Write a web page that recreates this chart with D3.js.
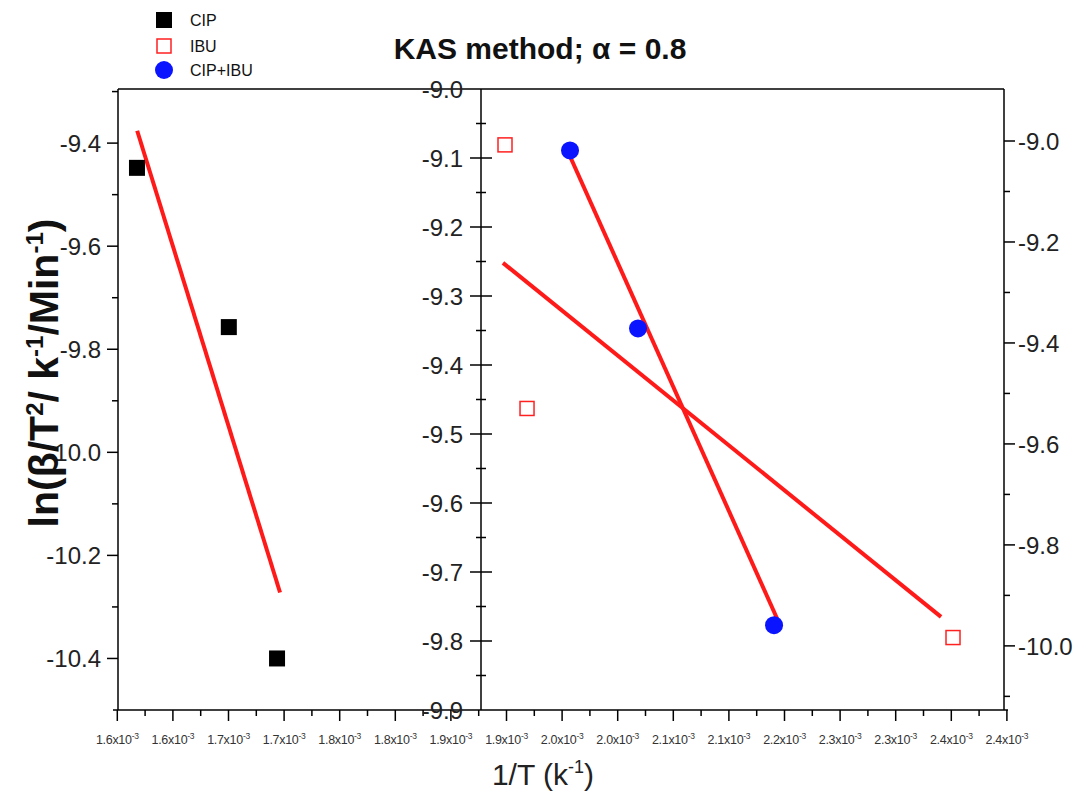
<!DOCTYPE html>
<html>
<head>
<meta charset="utf-8">
<script src="https://cdn.jsdelivr.net/npm/d3@7"></script>
<style>
  html, body { margin: 0; padding: 0; background: #fff; }
  svg { display: block; font-family: Arial, "Liberation Sans", sans-serif; }
</style>
</head>
<body>
<svg id="chart" width="1088" height="805"></svg>
<script>
// ---- data (x in units of 1e-3 K^-1) ----
const seriesNames = ["CIP", "IBU", "CIP+IBU"];
const cipX = [1.5944, 1.6803, 1.7254];
const cipY = [-9.448, -9.757, -10.400];
const ibuX = [1.9386, 1.9592, 2.3576];
const ibuY = [-9.081, -9.463, -9.795];
const mixX = [1.9994, 2.0630, 2.1902];
const mixY = [-9.089, -9.347, -9.777];
// fitted lines (end points)
const cipFitX = [1.5946, 1.7282];
const cipFitY = [-9.376, -10.272];
const ibuFitX = [1.9367, 2.3464];
const ibuFitY = [-9.252, -9.765];
const mixFitX = [1.9975, 2.1967];
const mixFitY = [-9.091, -9.780];
// axes
const xTickValues = [1.576, 1.628, 1.680, 1.732, 1.784, 1.836, 1.888, 1.940, 1.992, 2.044, 2.096, 2.148, 2.200, 2.252, 2.304, 2.356, 2.408];
const xTickLabels = ["1.6", "1.6", "1.7", "1.7", "1.8", "1.8", "1.9", "1.9", "2.0", "2.0", "2.1", "2.1", "2.2", "2.3", "2.3", "2.4", "2.4"];
const leftTicks = [-9.4, -9.6, -9.8, -10.0, -10.2, -10.4];
const midTicks = [-9.0, -9.1, -9.2, -9.3, -9.4, -9.5, -9.6, -9.7, -9.8, -9.9];
const rightTicks = [-9.0, -9.2, -9.4, -9.6, -9.8, -10.0];
const titleText = "KAS method; ";
const xTitle = "1/T (k";

const svg = d3.select("#chart");
const pTop = 89, pBottom = 710, pLeft = 118, pRight = 1004, midX = 481;

const x = d3.scaleLinear().domain([1.576, 2.408]).range([117.3, 1006.9]);
const yL = d3.scaleLinear().domain([-10.5, -9.295]).range([pBottom, pTop]);
const yM = d3.scaleLinear().domain([-9.9, -9.0]).range([pBottom, pTop]);
const yR = d3.scaleLinear().domain([-10.127, -8.897]).range([pBottom, pTop]);

// top frame line
svg.append("line").attr("x1", pLeft).attr("x2", pRight).attr("y1", pTop).attr("y2", pTop)
  .attr("stroke", "#000").attr("stroke-width", 1.5);

// bottom axis
const minorX = [];
for (let i = 0; i < xTickValues.length - 1; i++) minorX.push((xTickValues[i] + xTickValues[i + 1]) / 2);
const gx = svg.append("g").attr("transform", `translate(0,${pBottom})`);
gx.append("line").attr("x1", 113).attr("x2", 1008).attr("stroke", "#000").attr("stroke-width", 1.5);
gx.selectAll("line.maj").data(xTickValues).join("line").attr("class", "maj")
  .attr("x1", d => x(d)).attr("x2", d => x(d)).attr("y1", 0).attr("y2", 11)
  .attr("stroke", "#000").attr("stroke-width", 1.5);
gx.selectAll("line.min").data(minorX).join("line").attr("class", "min")
  .attr("x1", d => x(d)).attr("x2", d => x(d)).attr("y1", 0).attr("y2", 6)
  .attr("stroke", "#000").attr("stroke-width", 1.5);
const xt = gx.selectAll("text").data(xTickValues).join("text")
  .attr("x", d => x(d)).attr("y", 34).attr("text-anchor", "middle")
  .attr("font-size", 12.5).attr("letter-spacing", -0.3).attr("fill", "#333");
xt.append("tspan").text((d, i) => xTickLabels[i] + "x10");
xt.append("tspan").attr("dy", -5).attr("font-size", 8.5).text("-3");

// left axis
const lMinor = [-9.3, -9.5, -9.7, -9.9, -10.1, -10.3, -10.5];
const gl = svg.append("g");
gl.append("line").attr("x1", pLeft).attr("x2", pLeft).attr("y1", pTop).attr("y2", pBottom)
  .attr("stroke", "#000").attr("stroke-width", 1.5);
gl.selectAll("line.maj").data(leftTicks).join("line").attr("class", "maj")
  .attr("x1", pLeft - 11).attr("x2", pLeft).attr("y1", d => yL(d)).attr("y2", d => yL(d))
  .attr("stroke", "#000").attr("stroke-width", 1.5);
gl.selectAll("line.min").data(lMinor.filter(d => yL(d) > pTop + 2 && yL(d) < pBottom - 2)).join("line").attr("class", "min")
  .attr("x1", pLeft - 6).attr("x2", pLeft).attr("y1", d => yL(d)).attr("y2", d => yL(d))
  .attr("stroke", "#000").attr("stroke-width", 1.5);
gl.selectAll("text").data(leftTicks).join("text")
  .attr("x", pLeft - 17).attr("y", d => yL(d)).attr("dy", "0.36em").attr("text-anchor", "end")
  .attr("font-size", 24).attr("fill", "#222").text(d => d.toFixed(1));

// middle axis
const mMinor = [-9.05, -9.15, -9.25, -9.35, -9.45, -9.55, -9.65, -9.75, -9.85];
const gm = svg.append("g");
gm.append("line").attr("x1", midX).attr("x2", midX).attr("y1", pTop).attr("y2", pBottom)
  .attr("stroke", "#000").attr("stroke-width", 1.5);
gm.selectAll("line.maj").data(midTicks.filter(d => d > -9.85 && d < -9.05)).join("line").attr("class", "maj")
  .attr("x1", midX - 11).attr("x2", midX + 11).attr("y1", d => yM(d)).attr("y2", d => yM(d))
  .attr("stroke", "#000").attr("stroke-width", 1.5);
gm.selectAll("line.min").data(mMinor).join("line").attr("class", "min")
  .attr("x1", midX - 5).attr("x2", midX + 5).attr("y1", d => yM(d)).attr("y2", d => yM(d))
  .attr("stroke", "#000").attr("stroke-width", 1.5);
gm.selectAll("text").data(midTicks).join("text")
  .attr("x", midX - 18).attr("y", d => yM(d)).attr("dy", "0.36em").attr("text-anchor", "end")
  .attr("font-size", 24).attr("fill", "#222").text(d => d.toFixed(1));

// right axis
const rMinor = [-9.1, -9.3, -9.5, -9.7, -9.9, -10.1];
const gr = svg.append("g");
gr.append("line").attr("x1", pRight).attr("x2", pRight).attr("y1", pTop).attr("y2", pBottom)
  .attr("stroke", "#000").attr("stroke-width", 1.5);
gr.selectAll("line.maj").data(rightTicks).join("line").attr("class", "maj")
  .attr("x1", pRight).attr("x2", pRight + 11).attr("y1", d => yR(d)).attr("y2", d => yR(d))
  .attr("stroke", "#000").attr("stroke-width", 1.5);
gr.selectAll("line.min").data(rMinor).join("line").attr("class", "min")
  .attr("x1", pRight).attr("x2", pRight + 6).attr("y1", d => yR(d)).attr("y2", d => yR(d))
  .attr("stroke", "#000").attr("stroke-width", 1.5);
gr.selectAll("text").data(rightTicks).join("text")
  .attr("x", pRight + 14).attr("y", d => yR(d)).attr("dy", "0.36em").attr("text-anchor", "start")
  .attr("font-size", 24).attr("fill", "#222").text(d => d.toFixed(1));

// fit lines
const fits = [
  {xs: cipFitX, ys: cipFitY, y: yL},
  {xs: ibuFitX, ys: ibuFitY, y: yM},
  {xs: mixFitX, ys: mixFitY, y: yM}
];
fits.forEach(f => {
  svg.append("path")
    .datum(f.xs.map((v, i) => [v, f.ys[i]]))
    .attr("d", d3.line().x(d => x(d[0])).y(d => f.y(d[1])))
    .attr("stroke", "#ff1a1a").attr("stroke-width", 4).attr("fill", "none");
});

// points
svg.selectAll("rect.cip").data(cipX).join("rect").attr("class", "cip")
  .attr("x", d => x(d) - 8).attr("y", (d, i) => yL(cipY[i]) - 8)
  .attr("width", 16).attr("height", 16).attr("fill", "#000");
svg.selectAll("rect.ibu").data(ibuX).join("rect").attr("class", "ibu")
  .attr("x", d => x(d) - 7).attr("y", (d, i) => yM(ibuY[i]) - 7)
  .attr("width", 14).attr("height", 14).attr("fill", "#fff").attr("stroke", "#ff2020").attr("stroke-width", 1.5);
svg.selectAll("circle.mix").data(mixX).join("circle").attr("class", "mix")
  .attr("cx", d => x(d)).attr("cy", (d, i) => yM(mixY[i])).attr("r", 9)
  .attr("fill", "#0a14ff");

// legend
const lg = svg.append("g").attr("transform", "translate(164,0)");
lg.append("rect").attr("x", -8).attr("y", 12).attr("width", 16).attr("height", 16).attr("fill", "#000");
lg.append("rect").attr("x", -7).attr("y", 39).attr("width", 14).attr("height", 14)
  .attr("fill", "#fff").attr("stroke", "#ff2020").attr("stroke-width", 1.5);
lg.append("circle").attr("cx", 0).attr("cy", 70).attr("r", 9).attr("fill", "#0a14ff");
lg.selectAll("text").data(seriesNames).join("text")
  .attr("x", 26).attr("y", (d, i) => [20, 46, 70][i]).attr("dy", "0.36em")
  .attr("font-size", 16).attr("fill", "#111").text(d => d);

// title
const tt = svg.append("text").attr("x", 540).attr("y", 59).attr("text-anchor", "middle")
  .attr("font-size", 30).attr("font-weight", "bold").attr("fill", "#111");
tt.append("tspan").text(titleText);
tt.append("tspan").text("\u03b1");
tt.append("tspan").text(" = 0.8");

// x title
const xtl = svg.append("text").attr("x", 543).attr("y", 785).attr("text-anchor", "middle")
  .attr("font-size", 30).attr("fill", "#222");
xtl.append("tspan").text(xTitle);
xtl.append("tspan").attr("dy", -12).attr("font-size", 18).text("-1");
xtl.append("tspan").attr("dy", 12).text(")");

// y title
const ytl = svg.append("text").attr("transform", "translate(58,373) rotate(-90)")
  .attr("text-anchor", "middle").attr("font-size", 41).attr("font-weight", "bold").attr("fill", "#111");
ytl.append("tspan").text("ln(\u03b2/T");
ytl.append("tspan").attr("dy", -15).attr("font-size", 24).text("2");
ytl.append("tspan").attr("dy", 15).text("/ k");
ytl.append("tspan").attr("dy", -15).attr("font-size", 24).text("-1");
ytl.append("tspan").attr("dy", 15).text("/Min");
ytl.append("tspan").attr("dy", -15).attr("font-size", 24).text("-1");
ytl.append("tspan").attr("dy", 15).text(")");
</script>
</body>
</html>
